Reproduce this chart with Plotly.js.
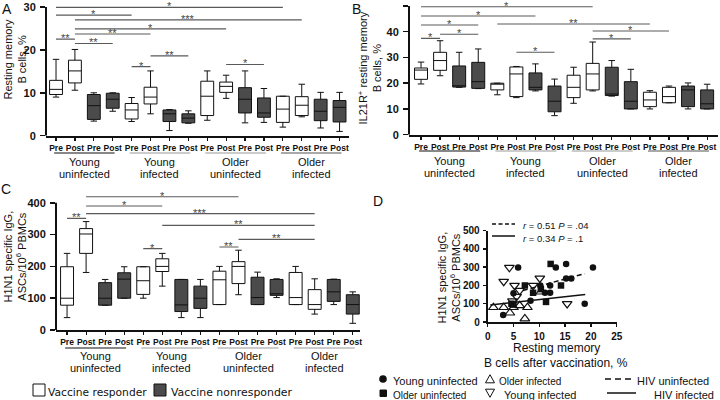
<!DOCTYPE html>
<html>
<head>
<meta charset="utf-8">
<script src="https://cdn.plot.ly/plotly-3.0.1.min.js"></script>
<style>html,body{margin:0;padding:0;background:#fff;}#chart{width:720px;height:400px;}</style>
</head>
<body>
<div id="chart"></div>
<script>
// ---------------- DATA ----------------
const positions = [0,1,2,3,4,5,6,7,8,9,10,11,12,13,14,15];
const tickLabels = ['Pre','Post','Pre','Post','Pre','Post','Pre','Post','Pre','Post','Pre','Post','Pre','Post','Pre','Post'];
const groupTop = ['Young','Young','Older','Older'];
const groupBottom = ['uninfected','infected','uninfected','infected'];
const responderIdx = [0,1,4,5,8,9,12,13];
const nonresponderIdx = [2,3,6,7,10,11,14,15];
const responderName = 'Vaccine responder';
const nonresponderName = 'Vaccine nonresponder';

// Panel A: resting memory B cells, %
const A_lo  = [9.0,10.6,3.4,5.7,3.3,5.1,1.2,2.9,3.6,8.7,3.0,3.1,2.0,4.4,1.8,1.0];
const A_q1  = [9.6,12.3,3.8,6.4,3.9,7.4,3.3,3.0,4.7,10.1,5.3,4.3,3.1,4.7,3.5,3.2];
const A_med = [10.8,15.1,7.0,8.5,6.0,9.0,5.1,4.1,9.2,11.5,8.5,5.3,6.2,7.1,5.7,6.6];
const A_q3  = [12.9,17.6,9.6,9.9,7.5,11.3,6.0,5.1,12.7,12.5,11.2,8.8,9.2,9.1,8.5,8.2];
const A_hi  = [17.8,20.1,10.0,10.0,8.9,15.1,6.1,5.8,15.1,14.1,15.1,11.0,9.2,12.0,10.1,10.1];
const A_ticks = [0,10,20,30];
const A_sig = [[0,12,'*'],[0,4,'*'],[1,13,'***'],[1,9,'*'],[1,5,'**'],[0,1,'**'],[1,3,'**'],[5,7,'**'],[4,5,'*'],[9,11,'*']];

// Panel B: IL21R+ resting memory B cells, %
const B_lo  = [19.7,22.9,18.4,17.9,15.5,14.4,17.0,7.4,12.2,17.0,15.0,10.0,10.0,12.4,10.0,10.0];
const B_q1  = [21.5,25.0,18.5,18.0,17.4,14.8,17.4,8.9,14.4,17.4,15.2,10.0,10.9,12.4,10.9,10.0];
const B_med = [25.1,28.8,19.0,20.6,19.8,23.6,18.4,13.0,18.4,23.6,15.8,13.0,13.5,14.8,17.4,12.0];
const B_q3  = [25.9,32.0,26.7,28.1,20.0,26.3,24.0,18.9,23.1,27.7,26.2,20.6,16.5,18.4,18.9,17.4];
const B_hi  = [28.2,36.5,32.0,33.3,20.0,26.5,27.5,21.6,26.2,36.0,28.8,25.4,17.1,18.9,20.1,19.6];
const B_ticks = [0,10,20,30,40,50];
const B_sig = [[0,9,'*'],[0,6,'*'],[0,3,'*'],[1,3,'*'],[0,1,'*'],[4,12,'**'],[9,13,'*'],[9,11,'*'],[5,7,'*']];

// Panel C: H1N1 specific IgG ASCs/10^6 PBMCs
const C_lo  = [39,181,78,100,100,138,39,39,80,111,80,102,80,50,80,21];
const C_q1  = [78,241,78,100,112,184,58,68,80,146,80,109,80,65,90,50];
const C_med = [100,302,100,160,155,200,79,100,158,200,102,114,102,80,120,80];
const C_q3  = [199,319,149,180,199,224,159,138,185,215,166,159,181,127,159,111];
const C_hi  = [241,341,159,199,199,241,159,159,200,251,182,161,200,161,160,120];
const C_ticks = [0,100,200,300,400];
const C_sig = [[1,9,'*'],[1,5,'*'],[1,13,'***'],[0,1,'**'],[5,13,'**'],[9,13,'**'],[8,9,'**'],[4,5,'*']];

// Panel D: scatter
const D_youngUninf_x = [3.0,5.0,5.9,8.3,10.2,11.1,12.1,12.1,13.2,15.2,15.2,16.2,18.8,20.4];
const D_youngUninf_y = [38,158,298,117,200,160,160,200,298,318,238,238,100,298];
const D_olderUninf_x = [4.6,5.0,7.2,8.8,10.3,11.3,12.2,14.2];
const D_olderUninf_y = [100,95,200,160,180,110,318,200];
const D_olderInf_x = [1.1,3.1,4.3,5.0,6.2,7.2,7.7,10.3];
const D_olderInf_y = [80,80,50,80,90,18,80,165];
const D_youngInf_x = [3.1,4.2,4.8,5.2,5.6,6.2,8.8,10.1,15.4];
const D_youngInf_y = [222,298,115,200,140,172,200,240,100];
const D_fitUninf_x = [6.8,18.8];
const D_fitUninf_y = [172,265];
const D_fitInf_x = [0.5,18.9];
const D_fitInf_y = [93,151];
const D_xticks = [0,5,10,15,20,25];
const D_yticks = [0,100,200,300,400,500];
const D_stats = ['<i>r</i> = 0.51 <i>P</i> = .04', '<i>r</i> = 0.34 <i>P</i> = .1'];
const D_names = ['Young uninfected','Older uninfected','Older infected','Young infected','HIV uninfected','HIV infected'];

// ---------------- LAYOUT HELPERS ----------------
const W = 720, H = 400;
const px = v => v / W;
const py = v => 1 - v / H;
const FONT = 'Liberation Sans, Arial, sans-serif';
const VFONT = 'DejaVu Sans, Verdana, sans-serif';
const INK = '#111';
const DARK = '#4b4b4b';
const pick = (arr, idx) => idx.map(i => arr[i]);

function boxTraces(lo,q1,med,q3,hi,xa,ya) {
  const mk = (idx, fill, name) => ({
    type:'box', orientation:'v', xaxis:xa, yaxis:ya, name:name,
    x: pick(positions, idx), lowerfence: pick(lo, idx), q1: pick(q1, idx),
    median: pick(med, idx), q3: pick(q3, idx), upperfence: pick(hi, idx),
    fillcolor: fill, line:{color: INK, width:1}, width:0.68, whiskerwidth:0.5,
    boxpoints:false, hoverinfo:'skip', showlegend:false
  });
  return [mk(responderIdx,'#ffffff',responderName), mk(nonresponderIdx, DARK, nonresponderName)];
}

function xAxisBox(pxL, pxR, range, anchor) {
  return {domain:[px(pxL), px(pxR)], range:range, anchor:anchor,
    tickmode:'array', tickvals:positions, ticktext:tickLabels, tickangle:0,
    tickfont:{family:FONT, size:8.5, weight:700, color:INK},
    showline:true, linewidth:2, linecolor:INK, ticks:'outside', ticklen:3, tickwidth:1.2, tickcolor:INK,
    showgrid:false, zeroline:false, fixedrange:true, automargin:false};
}
function yAxisBox(pyBottom, pyTop, range, ticks, anchor) {
  return {domain:[py(pyBottom), py(pyTop)], range:range, anchor:anchor,
    tickmode:'array', tickvals:ticks, ticktext:ticks.map(String),
    tickfont:{family:FONT, size:11, weight:700, color:INK},
    showline:false, ticks:'outside', ticklen:5, tickwidth:1.5, tickcolor:INK, ticklabelstandoff:2,
    showgrid:false, zeroline:false, fixedrange:true, automargin:false};
}

const shapes = [];
const annotations = [];
const LIFT = 2; // single-line text correction, px

function yLine(xa, ya, top) {
  shapes.push({type:'line', xref:xa+' domain', yref:ya, x0:0, x1:0, y0:0, y1:top, line:{color:INK, width:2}});
}
function sigBars(sig, levels, xa, ya) {
  sig.forEach((s,i) => {
    shapes.push({type:'line', xref:xa, yref:ya, x0:s[0], x1:s[1], y0:levels[i], y1:levels[i], line:{color:'#5a5a5a', width:1.1}});
    annotations.push({xref:xa, yref:ya, x:(s[0]+s[1])/2, y:levels[i], text:s[2], showarrow:false,
      yanchor:'middle', xanchor:'center', yshift:1, font:{family:FONT, size:11, color:'#444'}});
  });
}
function groupLabels(xa, lineY, topY, botY, colors) {
  groupTop.forEach((g,i) => {
    shapes.push({type:'line', xref:xa, yref:'paper', x0:i*4-0.1, x1:i*4+3.1, y0:py(lineY), y1:py(lineY), line:{color:colors[i], width:1.2}});
    annotations.push({xref:xa, yref:'paper', x:i*4+1.5, y:py(topY+LIFT), text:g, showarrow:false, yanchor:'middle', font:{family:FONT, size:11, color:INK}});
    annotations.push({xref:xa, yref:'paper', x:i*4+1.5, y:py(botY+LIFT), text:groupBottom[i], showarrow:false, yanchor:'middle', font:{family:FONT, size:11, color:INK}});
  });
}
function paperText(x, y, text, size, extra) {
  annotations.push(Object.assign({xref:'paper', yref:'paper', x:px(x), y:py(y), text:text, showarrow:false,
    xanchor:'center', yanchor:'middle', font:{family:FONT, size:size, color:INK}}, extra || {}));
}
function legendText(x, y, text, size, family) {
  paperText(x, y + LIFT, text, size, {xanchor:'left', font:{family:family || FONT, size:size, color:INK}});
}
function pRect(x0, y0, x1, y1, fill) {
  shapes.push({type:'rect', xref:'paper', yref:'paper', x0:px(x0), x1:px(x1), y0:py(y0), y1:py(y1),
    fillcolor:fill, line:{color:INK, width:1}});
}
function pLine(x0, x1, y, dash) {
  shapes.push({type:'line', xref:'paper', yref:'paper', x0:px(x0), x1:px(x1), y0:py(y), y1:py(y),
    line:{color:INK, width:1.5, dash:dash || 'solid'}});
}
function pCircle(cx, cy, r) {
  shapes.push({type:'circle', xref:'paper', yref:'paper', x0:px(cx-r), x1:px(cx+r), y0:py(cy+r), y1:py(cy-r),
    fillcolor:INK, line:{color:INK, width:0}});
}
function pTriangle(cx, cy, s, up) {
  const d = up ? [[cx-s, cy+s*0.85],[cx+s, cy+s*0.85],[cx, cy-s*0.95]] : [[cx-s, cy-s*0.85],[cx+s, cy-s*0.85],[cx, cy+s*0.95]];
  const path = 'M' + d.map(p => px(p[0]) + ',' + py(p[1])).join('L') + 'Z';
  shapes.push({type:'path', xref:'paper', yref:'paper', path:path, line:{color:INK, width:1}});
}

// ---------------- TRACES ----------------
const traces = [];
traces.push(...boxTraces(A_lo,A_q1,A_med,A_q3,A_hi,'x','y'));
traces.push(...boxTraces(B_lo,B_q1,B_med,B_q3,B_hi,'x2','y2'));
traces.push(...boxTraces(C_lo,C_q1,C_med,C_q3,C_hi,'x3','y3'));

const sc = (x,y,name,marker) => ({type:'scatter', mode:'markers', x:x, y:y, name:name, xaxis:'x4', yaxis:'y4',
  marker:marker, cliponaxis:false, hoverinfo:'skip', showlegend:false});
traces.push(sc(D_youngUninf_x, D_youngUninf_y, D_names[0], {symbol:'circle', size:6.5, color:INK}));
traces.push(sc(D_olderUninf_x, D_olderUninf_y, D_names[1], {symbol:'square', size:6.5, color:INK}));
traces.push(sc(D_olderInf_x, D_olderInf_y, D_names[2], {symbol:'triangle-up-open', size:8.5, color:INK, line:{width:1.2}}));
traces.push(sc(D_youngInf_x, D_youngInf_y, D_names[3], {symbol:'triangle-down-open', size:8.5, color:INK, line:{width:1.2}}));
traces.push({type:'scatter', mode:'lines', x:D_fitUninf_x, y:D_fitUninf_y, name:D_names[4], xaxis:'x4', yaxis:'y4',
  line:{color:INK, width:1.5, dash:'5px,3px'}, hoverinfo:'skip', showlegend:false});
traces.push({type:'scatter', mode:'lines', x:D_fitInf_x, y:D_fitInf_y, name:D_names[5], xaxis:'x4', yaxis:'y4',
  line:{color:INK, width:1.5}, hoverinfo:'skip', showlegend:false});

// ---------------- DECORATIONS ----------------
yLine('x','y',30);
yLine('x2','y2',50);
yLine('x3','y3',400);
sigBars(A_sig, [29.9,28.1,27.0,24.9,23.7,22.5,21.5,18.6,16.1,16.6], 'x', 'y');
sigBars(B_sig, [49.7,46.1,42.6,39.0,37.4,43.0,40.3,37.2,32.0], 'x2', 'y2');
sigBars(C_sig, [419,390,366,351,329,285,261,256], 'x3', 'y3');
groupLabels('x', 153, 160, 172, ['#111','#999','#999','#555']);
groupLabels('x2', 151, 159, 171, ['#111','#999','#999','#555']);
groupLabels('x3', 348, 354, 366, ['#111','#999','#999','#999']);

paperText(7, 9, 'A', 14);
paperText(356, 9, 'B', 14);
paperText(6, 189, 'C', 14);
paperText(378, 201, 'D', 14);

paperText(14.5, 59, 'Resting memory<br>B cells, %', 11, {textangle:-90});
paperText(369.5, 68, 'IL21R<sup>+</sup> resting memory<br>B cells, %', 11, {textangle:-90});
paperText(14.5, 257, 'H1N1 specific IgG,<br>ASCs/10<sup>6</sup> PBMCs', 11, {textangle:-90});
paperText(448.5, 278, 'H1N1 specific IgG,<br>ASCs/10<sup>6</sup> PBMCs', 11, {textangle:-90});
paperText(556, 346 + LIFT, 'Resting memory', 12);
paperText(556, 361 + LIFT, 'B cells after vaccination, %', 12);

// r / P labels inside D
pLine(492, 515, 224, '4px,2.5px');
pLine(492, 515, 236);
legendText(521, 224, D_stats[0], 9.5);
legendText(521, 236, D_stats[1], 9.5);

// Bottom legend (vaccine response)
pRect(33, 384, 45, 396, '#ffffff');
legendText(46, 390, responderName, 10.7, VFONT);
pRect(154, 384, 166, 396, DARK);
legendText(169, 390, nonresponderName, 10.9, VFONT);

// D legend
pCircle(383, 379, 3.8);
legendText(391, 379, D_names[0], 11);
pRect(380, 390, 386.5, 396.5, INK);
legendText(391, 393, D_names[1], 10);
pTriangle(490, 379, 4.5, true);
legendText(497, 379, D_names[2], 10);
pTriangle(490, 393, 4.5, false);
legendText(502, 393, D_names[3], 11);
pLine(605, 633, 379, '6px,4px');
legendText(635, 379, D_names[4], 11);
pLine(607, 636, 393);
legendText(652, 393, D_names[5], 11);

// ---------------- LAYOUT ----------------
const layout = {
  width:W, height:H, margin:{l:0,r:0,t:0,b:0, autoexpand:false},
  paper_bgcolor:'#ffffff', plot_bgcolor:'rgba(0,0,0,0)',
  font:{family:FONT, color:INK}, boxmode:'overlay', hovermode:false, showlegend:false,
  xaxis: xAxisBox(46, 349, [-0.53, 15.5], 'y'),
  yaxis: yAxisBox(135.7, 2.7, [0, 31], A_ticks, 'x'),
  xaxis2: xAxisBox(409, 718, [-0.63, 15.57], 'y2'),
  yaxis2: yAxisBox(134.7, 2.1, [0, 51.5], B_ticks, 'x2'),
  xaxis3: xAxisBox(56, 360.4, [-0.58, 15.4], 'y3'),
  yaxis3: yAxisBox(330, 193.3, [0, 430], C_ticks, 'x3'),
  xaxis4: {domain:[px(487.7), px(616.7)], range:[0,25], anchor:'y4', tickmode:'array', tickvals:D_xticks,
    tickfont:{family:FONT, size:10, weight:700, color:INK}, ticklabelstandoff:1, showline:true, linewidth:2, linecolor:INK,
    ticks:'outside', ticklen:3, tickwidth:1.5, tickcolor:INK, showgrid:false, zeroline:false, fixedrange:true, automargin:false},
  yaxis4: {domain:[py(322), py(230.7)], range:[0,500], anchor:'x4', tickmode:'array', tickvals:D_yticks,
    tickfont:{family:FONT, size:10, weight:700, color:INK}, showline:true, linewidth:2, linecolor:INK,
    ticks:'outside', ticklen:3, tickwidth:1.5, tickcolor:INK, ticklabelstandoff:1, showgrid:false, zeroline:false, fixedrange:true, automargin:false},
  shapes: shapes,
  annotations: annotations
};

Plotly.newPlot('chart', traces, layout, {staticPlot:true, displayModeBar:false});
</script>
</body>
</html>
